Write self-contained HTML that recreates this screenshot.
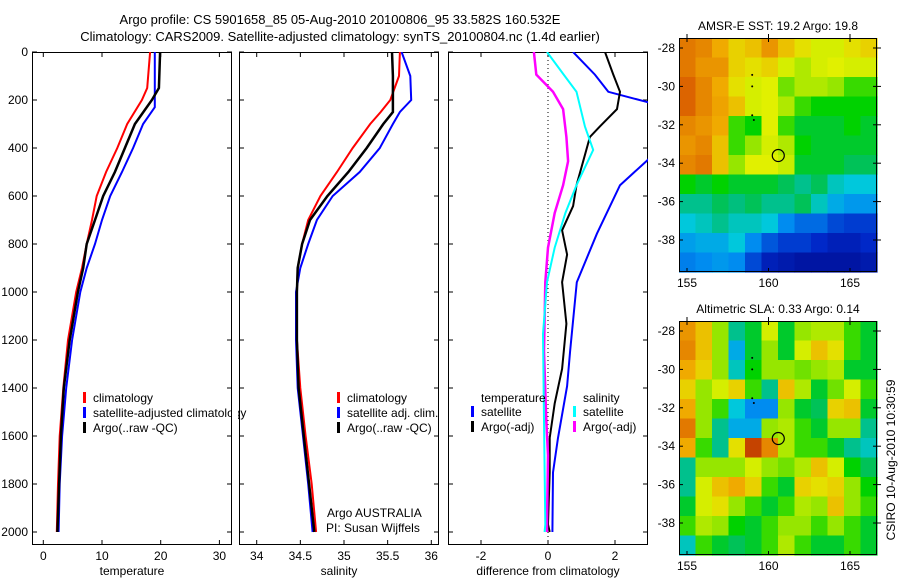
<!DOCTYPE html>
<html><head><meta charset="utf-8">
<style>
html,body{margin:0;padding:0;background:#fff;}
svg{display:block;font-family:"Liberation Sans",sans-serif;}
text{font-size:12px;fill:#000;}
</style></head>
<body>
<svg id="fig" width="900" height="580" viewBox="0 0 900 580" xmlns="http://www.w3.org/2000/svg">
<text x="340" y="24" text-anchor="middle" style="font-size:13px">Argo profile: CS 5901658_85 05-Aug-2010 20100806_95 33.582S 160.532E</text>
<text x="340" y="41" text-anchor="middle" style="font-size:13px">Climatology: CARS2009. Satellite-adjusted climatology: synTS_20100804.nc (1.4d earlier)</text>
<text transform="translate(895,460) rotate(-90)" text-anchor="middle">CSIRO 10-Aug-2010 10:30:59</text>
<g id="plots"></g>
</svg>
<script>
// ---- data ----
const depthT = [0,150,200,300,400,500,600,700,800,900,1000,1200,1400,1600,1800,2000];
const tempClim = [18.2,17.7,16.8,14.3,12.6,10.7,9.1,8.3,7.4,6.6,5.6,4.2,3.4,2.8,2.5,2.3];
const depthTs = [0,230,300,400,500,600,700,800,900,1000,1200,1400,1600,1800,2000];
const tempSat = [19.0,19.0,17.0,15.3,13.4,11.4,10.0,8.8,7.4,6.3,4.9,3.9,3.2,2.8,2.6];
const tempArgo = [19.9,19.7,18.5,15.6,13.9,12.2,10.2,8.8,7.4,6.8,5.9,4.5,3.5,3.0,2.7,2.4];
const depthS = [0,100,200,250,300,400,500,600,700,800,900,1000,1200,1400,1600,1800,2000];
const salClim = [35.64,35.63,35.53,35.42,35.30,35.10,34.92,34.73,34.59,34.52,34.47,34.46,34.46,34.50,34.56,34.63,34.68];
const salSat = [35.66,35.76,35.77,35.64,35.56,35.41,35.18,34.87,34.69,34.59,34.50,34.45,34.45,34.47,34.53,34.59,34.64];
const salArgo = [35.55,35.56,35.56,35.56,35.45,35.26,35.05,34.81,34.61,34.52,34.47,34.46,34.46,34.48,34.54,34.60,34.66];
const depthD1 = [0,94,166,210,300,447,555,757,959,1247,1392,1608,1752,2000];
const diffTempSat = [0.75,1.4,1.8,3.0,3.6,3.0,2.15,1.46,0.86,0.66,0.57,0.3,0.15,0.13];
const depthD2 = [0,94,166,238,310,354,455,555,642,743,844,959,1132,1320,1464,1608,1752,1968,2000];
const diffTempArgo = [1.7,1.95,2.15,2.06,1.55,1.25,1.05,0.85,0.75,0.42,0.57,0.42,0.55,0.42,0.2,0.05,0.05,0.0,0.05];
const depthD3 = [0,94,166,310,408,555,671,815,959,1175,1536,1968,2000];
const diffSalSat = [-0.03,0.47,0.85,1.1,1.35,0.85,0.52,0.2,-0.03,-0.15,-0.12,-0.08,-0.1];
const depthD4 = [0,94,166,238,354,455,555,671,815,959,1247,1536,1680,1968,2000];
const diffSalArgo = [-0.42,-0.35,0.15,0.45,0.55,0.6,0.45,0.2,0.0,-0.08,-0.12,-0.05,0.0,-0.03,-0.03];
const depthTicks = [0,200,400,600,800,1000,1200,1400,1600,1800,2000];
const tempTicks = [0,10,20,30];
const salTicks = [34,34.5,35,35.5,36];
const diffTicks = [-2,0,2];
const lonTicks = [155,160,165];
const latTicks = [-28,-30,-32,-34,-36,-38];
const sstGrid = [
[.82,.8,.75,.7,.72,.78,.72,.68,.65,.65,.68,.7],
[.82,.78,.78,.7,.68,.7,.65,.62,.65,.66,.65,.65],
[.85,.8,.75,.68,.65,.66,.58,.62,.62,.6,.55,.55],
[.85,.8,.76,.72,.65,.66,.62,.55,.52,.52,.52,.52],
[.8,.78,.75,.55,.52,.66,.55,.5,.5,.5,.52,.5],
[.78,.8,.72,.55,.6,.65,.62,.52,.5,.5,.5,.5],
[.8,.82,.72,.6,.66,.66,.64,.5,.5,.5,.48,.48],
[.52,.5,.52,.5,.5,.5,.48,.45,.48,.42,.4,.4],
[.45,.45,.48,.46,.48,.45,.45,.48,.42,.35,.32,.32],
[.4,.42,.45,.42,.42,.4,.3,.25,.25,.2,.18,.18],
[.33,.35,.35,.4,.3,.22,.18,.18,.15,.12,.12,.15],
[.28,.3,.32,.3,.2,.12,.1,.08,.08,.08,.08,.1]];
const slaGrid = [
[.78,.72,.6,.45,.5,.65,.5,.6,.62,.62,.55,.5],
[.8,.72,.6,.35,.5,.6,.5,.65,.72,.68,.55,.5],
[.75,.7,.6,.42,.52,.6,.6,.58,.6,.62,.5,.5],
[.7,.6,.65,.7,.55,.45,.72,.62,.5,.58,.65,.55],
[.75,.6,.55,.4,.3,.3,.6,.5,.48,.7,.72,.5],
[.82,.6,.45,.35,.35,.6,.62,.55,.5,.6,.6,.45],
[.75,.55,.45,.68,.92,.8,.62,.55,.55,.5,.45,.42],
[.45,.6,.6,.6,.65,.6,.58,.62,.72,.65,.52,.48],
[.45,.65,.72,.75,.7,.55,.5,.7,.68,.7,.6,.52],
[.5,.65,.68,.6,.55,.5,.55,.62,.6,.72,.6,.55],
[.55,.62,.6,.52,.5,.55,.6,.6,.55,.6,.55,.5],
[.42,.55,.5,.48,.5,.55,.62,.55,.5,.5,.55,.5]];
const floatLon = [160.6];
const floatLat = [-33.6];
const trackLon = [159.0,159.0,159.0,159.1];
const trackLat = [-29.4,-30.0,-31.5,-31.75];

// ---- helpers ----
const NS="http://www.w3.org/2000/svg";
const root=document.getElementById('plots');
function mk(tag,attrs,parent){const e=document.createElementNS(NS,tag);for(const k in attrs)e.setAttribute(k,attrs[k]);(parent||root).appendChild(e);return e;}
const yD = d => 52 + d*0.24;
const TOP=52, BOT=545;

function panel(name,x0,x1,xs,xticks,label,showDepth){
  const g=mk('g',{});
  
  
  const cid='clip-'+name;
  const cp=mk('clipPath',{id:cid},g); mk('rect',{x:x0,y:TOP,width:x1-x0,height:BOT-TOP},cp);
  const frame=mk('rect',{x:x0+0.5,y:TOP+0.5,width:x1-x0-1,height:BOT-TOP-1,fill:'none',stroke:'#000','stroke-width':1},g);
  
  
  depthTicks.forEach(d=>{const y=yD(d);
    mk('line',{x1:x0,x2:x0+5,y1:y,y2:y,stroke:'#000'},g);mk('line',{x1:x1-5,x2:x1,y1:y,y2:y,stroke:'#000'},g);
    if(showDepth){const t=mk('text',{x:x0-4,y:y+4,'text-anchor':'end'},g);t.textContent=d;
      
      }
  });
  xticks.forEach(v=>{const x=xs(v);
    mk('line',{x1:x,x2:x,y1:TOP,y2:TOP+5,stroke:'#000'},g);mk('line',{x1:x,x2:x,y1:BOT-5,y2:BOT,stroke:'#000'},g);
    const t=mk('text',{x:x,y:BOT+15,'text-anchor':'middle'},g);t.textContent=v;
    
    
  });
  const lt=mk('text',{x:(x0+x1)/2,y:BOT+30,'text-anchor':'middle'},g);lt.textContent=label;
  
  
  const inner=mk('g',{'clip-path':'url(#'+cid+')'},g);
  return inner;
}
function series(g,name,xs,depths,vals,color,w){
  const pts=vals.map((v,i)=>xs(v).toFixed(1)+','+yD(depths[i]).toFixed(1)).join(' ');
  const p=mk('polyline',{points:pts,fill:'none',stroke:color,'stroke-width':w},g);
  
  
}
function legend(items,x,y){
  items.forEach((it,i)=>{
    const yy=y+i*15;
    const r=mk('rect',{x:x,y:yy-10,width:3,height:11,fill:it[1]});
    
    
    const t=mk('text',{x:x+10,y:yy});t.textContent=it[0];
    
    
  });
}

// panel 1 temperature
const xT=v=>43.3+v*5.87;
const g1=panel('temperature-panel',32,232,xT,tempTicks,'temperature',true);
series(g1,'temp-climatology-line',xT,depthT,tempClim,'#f00',2);
series(g1,'temp-satellite-line',xT,depthTs,tempSat,'#00f',2);
series(g1,'temp-argo-line',xT,depthT,tempArgo,'#000',2.5);
// panel 2 salinity
const xS=v=>256.7+(v-34)*87.3;
const g2=panel('salinity-panel',239,439,xS,salTicks,'salinity',false);
series(g2,'sal-climatology-line',xS,depthS,salClim,'#f00',2);
series(g2,'sal-satellite-line',xS,depthS,salSat,'#00f',2);
series(g2,'sal-argo-line',xS,depthS,salArgo,'#000',2.5);
// panel 3 differences
const xD=v=>548+v*33.5;
const g3=panel('difference-panel',448,648,xD,diffTicks,'difference from climatology',false);
const zl=mk('line',{x1:xD(0),x2:xD(0),y1:TOP,y2:BOT,stroke:'#000','stroke-dasharray':'1,3'},g3);


series(g3,'diff-temp-satellite-line',xD,depthD1,diffTempSat,'#00f',2);
series(g3,'diff-temp-argo-line',xD,depthD2,diffTempArgo,'#000',2);
series(g3,'diff-sal-argo-line',xD,depthD4,diffSalArgo,'#f0f',2.5);
series(g3,'diff-sal-satellite-line',xD,depthD3,diffSalSat,'#0ff',2);

// legends
legend([['climatology','#f00'],['satellite-adjusted climatology','#00f'],['Argo(..raw -QC)','#000']],83,402);
mk('rect',{x:232,y:380,width:6,height:60,fill:'#fff'});
legend([['climatology','#f00'],['satellite adj. clim.','#00f'],['Argo(..raw -QC)','#000']],337,402);
const lh1=mk('text',{x:481,y:402});lh1.textContent='temperature';


const lh2=mk('text',{x:583,y:402});lh2.textContent='salinity';


legend([['satellite','#00f'],['Argo(-adj)','#000']],471,416);
legend([['satellite','#0ff'],['Argo(-adj)','#f0f']],573,416);
const a1=mk('text',{x:327,y:517});a1.textContent='Argo AUSTRALIA';


const a2=mk('text',{x:326,y:532});a2.textContent='PI: Susan Wijffels';



// colormap (blue -> cyan -> green -> yellow -> orange -> dark orange)
const cmStops=[[0,[0,0,120]],[0.15,[0,40,200]],[0.3,[0,140,240]],[0.4,[0,200,220]],[0.47,[0,190,110]],[0.52,[0,210,0]],[0.6,[150,230,0]],[0.66,[225,240,0]],[0.75,[240,170,0]],[0.85,[220,100,0]],[1,[170,30,0]]];
function cmap(v){
  v=Math.max(0,Math.min(1,v));
  for(let i=1;i<cmStops.length;i++){
    if(v<=cmStops[i][0]){const a=cmStops[i-1],b=cmStops[i];const t=(v-a[0])/(b[0]-a[0]);
      const c=a[1].map((x,k)=>Math.round(x+(b[1][k]-x)*t));return 'rgb('+c.join(',')+')';}
  }
  return 'rgb(170,30,0)';
}
function map(name,top,grid,title){
  const L=679,R=877,B=top+234;
  const xl=lon=>687+(lon-155)*16.3;
  const yl=lat=>top+10+(-28-lat)*19.2;
  const g=mk('g',{});
  
  
  const nr=grid.length,nc=grid[0].length;
  const cw=(R-L)/nc,ch=(B-top)/nr;
  grid.forEach((row,r)=>row.forEach((v,c)=>{
    const cell=mk('rect',{x:(L+c*cw).toFixed(2),y:(top+r*ch).toFixed(2),width:(cw+0.6).toFixed(2),height:(ch+0.6).toFixed(2),fill:cmap(v)},g);
    
    
  }));
  mk('rect',{x:L+0.5,y:top+0.5,width:R-L-1,height:B-top-1,fill:'none',stroke:'#000'},g);
  lonTicks.forEach(v=>{const x=xl(v);
    mk('line',{x1:x,x2:x,y1:top,y2:top+4,stroke:'#000'},g);mk('line',{x1:x,x2:x,y1:B-4,y2:B,stroke:'#000'},g);
    mk('line',{x1:x,x2:x,y1:top-4,y2:top,stroke:'#000'},g);
    const t=mk('text',{x:x,y:B+15,'text-anchor':'middle'},g);t.textContent=v;
    
    });
  latTicks.forEach(v=>{const y=yl(v);
    mk('line',{x1:L,x2:L+4,y1:y,y2:y,stroke:'#000'},g);mk('line',{x1:R-4,x2:R+4,y1:y,y2:y,stroke:'#000'},g);
    const t=mk('text',{x:L-4,y:y+4,'text-anchor':'end'},g);t.textContent=v;
    
    });
  trackLon.forEach((lo,i)=>{const d=mk('circle',{cx:xl(lo),cy:yl(trackLat[i]),r:1,fill:'#000'},g);
    
    });
  floatLon.forEach((lo,i)=>{const c=mk('circle',{cx:xl(lo),cy:yl(floatLat[i]),r:6,fill:'none',stroke:'#000','stroke-width':1.2},g);
    
    });
  const t=mk('text',{x:(L+R)/2,y:top-8,'text-anchor':'middle'},g);t.textContent=title;
  
  
}
map('sst-map',38,sstGrid,'AMSR-E SST: 19.2 Argo: 19.8');
map('sla-map',321,slaGrid,'Altimetric SLA: 0.33 Argo: 0.14');
</script>
</body></html>
